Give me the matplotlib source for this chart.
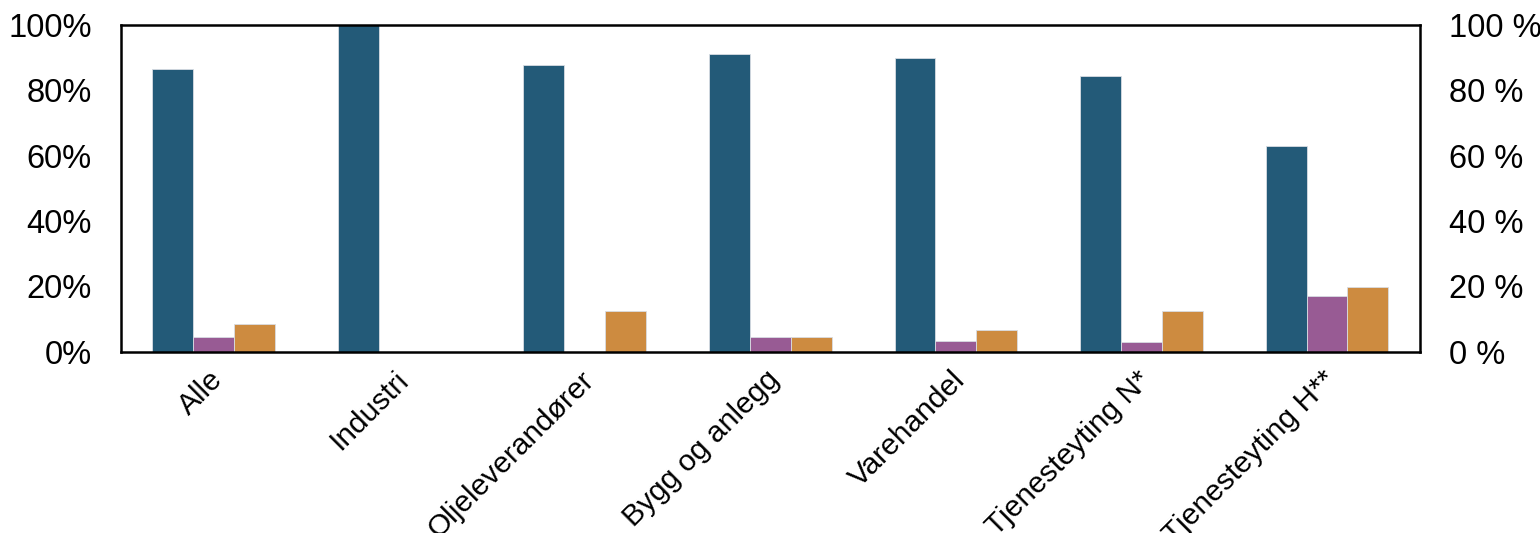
import numpy as np
import matplotlib
matplotlib.use("Agg")
import matplotlib.pyplot as plt
import matplotlib.transforms as mtransforms
from matplotlib.ticker import FuncFormatter

plt.rcParams['font.family'] = ['Liberation Sans', 'DejaVu Sans']

# Data (shares, percent)
categories = ["Alle", "Industri", "Oljeleverandører", "Bygg og anlegg",
              "Varehandel", "Tjenesteyting N*", "Tjenesteyting H**"]
series_blue = [86.4, 100.0, 87.6, 90.9, 89.7, 84.4, 62.8]
series_purple = [4.6, 0.0, 0.0, 4.4, 3.3, 2.9, 17.0]
series_orange = [8.5, 0.0, 12.4, 4.4, 6.6, 12.4, 19.9]
y_ticks = [0, 20, 40, 60, 80, 100]

colors = ["#235A78", "#985B94", "#CD8B40"]
fs = 23.5

fig = plt.figure(figsize=(15.4, 5.33), dpi=100)
ax = fig.add_axes([0.0784, 0.340, 0.8436, 0.6137])

x = np.arange(len(categories))
width = 0.22
for i, (vals, col) in enumerate(zip([series_blue, series_purple, series_orange], colors)):
    ax.bar(x + (i - 1) * width, vals, width, color=col, edgecolor="#d8dde3",
           linewidth=0.6, zorder=2)

ax.set_xlim(-0.5, len(categories) - 0.5)
ax.set_ylim(0, 100)
ax.set_yticks(y_ticks)
ax.yaxis.set_major_formatter(FuncFormatter(lambda v, p: f"{v:.0f}%"))
ax.tick_params(axis="y", length=0, labelsize=fs, pad=21)
ax.tick_params(axis="x", length=0, pad=17)
ax.set_xticks(x)
ax.set_xticklabels(categories, rotation=45, ha="right", va="center",
                   rotation_mode="anchor", fontsize=21.5)
shift = mtransforms.ScaledTranslation(5 / 100, 0, fig.dpi_scale_trans)
for lab in ax.get_xticklabels():
    lab.set_transform(lab.get_transform() + shift)

for s in ax.spines.values():
    s.set_linewidth(1.8)
    s.set_color("black")

ax2 = ax.twinx()
ax2.set_ylim(0, 100)
ax2.set_yticks(y_ticks)
ax2.yaxis.set_major_formatter(FuncFormatter(lambda v, p: f"{v:.0f} %"))
ax2.tick_params(axis="y", length=0, labelsize=fs, pad=21)
for s in ax2.spines.values():
    s.set_visible(False)

fig.savefig("out.png", dpi=100)
